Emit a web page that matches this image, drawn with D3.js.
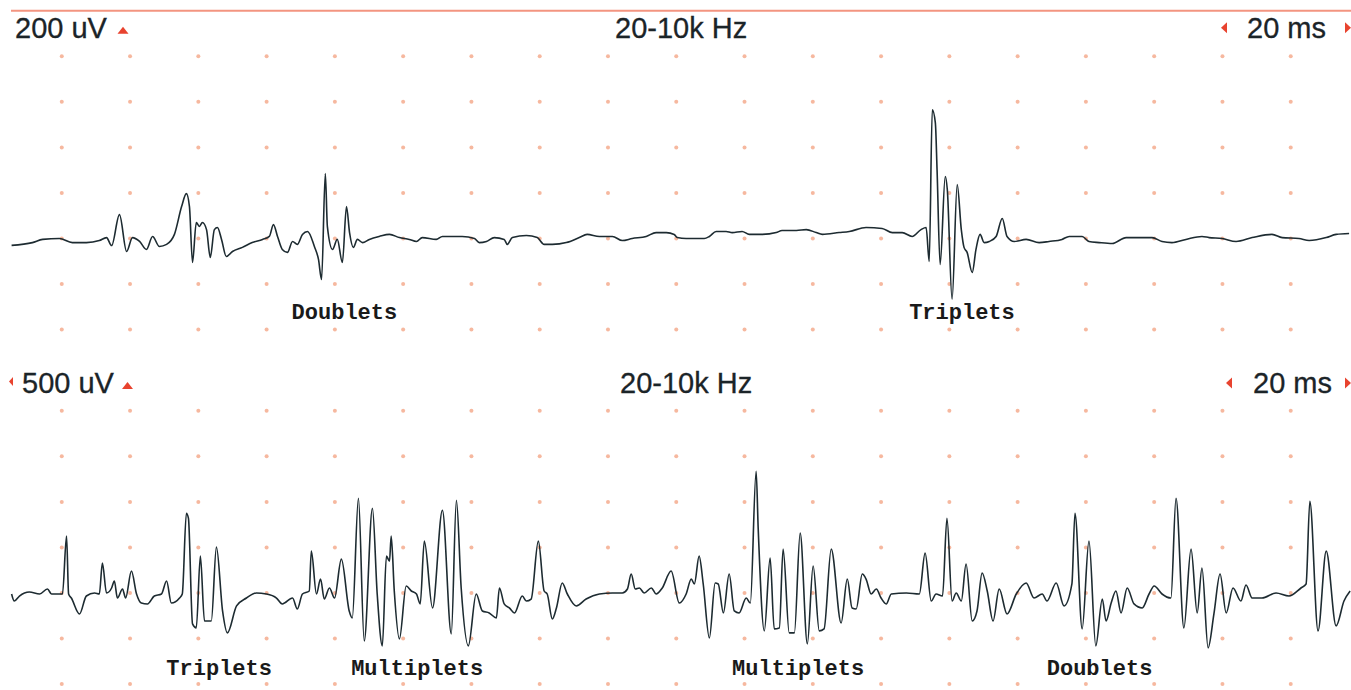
<!DOCTYPE html>
<html><head><meta charset="utf-8">
<script src="https://cdn.jsdelivr.net/npm/d3@7"></script>
<style>body{margin:0;background:#fff}svg{display:block}</style>
</head><body>
<svg id="c" width="1351" height="690"></svg>
<script>
// ---- data (time in ms, amplitude in µV) ----
const topTime = [5.3,11.4,14.4,19.3,23.1,27.2,31.0,33.1,34.6,36.9,39.0,40.7,42.8,44.8,46.6,48.6,50.7,53.0,55.1,56.5,57.4,58.3,59.4,60.3,61.2,62.4,63.5,64.7,65.6,66.8,68.2,70.0,72.9,75.8,78.8,80.8,82.0,83.2,84.6,86.1,87.6,89.0,90.5,92.0,94.0,95.2,96.1,97.2,97.8,99.3,100.7,102.2,103.4,104.3,105.4,106.6,108.1,110.1,
113.0,116.0,118.9,121.8,123.9,125.6,129.7,131.5,137.3,140.9,142.3,144.4,146.7,149.6,150.5,152.0,156.1,159.3,161.3,163.7,167.8,171.6,173.9,177.5,181.3,184.2,187.1,191.2,194.1,197.1,199.4,200.3,202.9,208.2,209.7,211.7,214.6,216.4,219.3,221.4,225.2,229.3,231.0,235.2,238.1,241.0,242.8,247.7,
250.7,255.6,260.3,263.3,266.2,269.1,271.7,273.2,274.1,275.0,275.9,276.4,277.3,278.8,279.4,280.8,282.3,283.5,284.3,285.2,286.7,287.8,289.0,290.2,291.7,293.7,295.5,296.9,299.0,302.5,306.3,309.2,313.0,315.1,318.9,320.9,323.9,327.7,331.8,339.4,342.3,345.2,349.3,354.0,356.1,359.9,364.0,368.7,374.5,377.5,382.4,385.4,390.4,393.3,397.1];
const topAmp = [-30,-18,-4,0,-18,-18,-9,4,-31,105,-57,4,-13,-48,9,-35,-26,18,140,197,140,-105,70,53,70,39,-83,39,48,-4,-79,-57,-39,-18,-4,9,61,9,-48,-61,-13,-26,18,31,-35,-92,-180,285,53,-48,-4,-105,140,26,-39,-4,-18,-4,
9,18,4,-4,-13,4,-4,9,9,0,-18,-13,4,-4,-26,4,13,4,-26,-26,-18,4,18,9,9,-9,0,9,26,26,18,4,0,0,9,31,31,26,31,18,18,26,35,35,39,26,18,26,
31,48,44,26,26,9,39,48,-101,565,508,302,-114,272,215,-267,237,39,-39,-61,-149,-48,18,-18,-13,9,88,9,-13,-4,-18,-13,-4,9,9,-13,-18,-22,4,4,-13,-18,-4,9,4,0,-13,4,18,4,0,-9,4,18,22];

const botTime = [5.3,6.1,7.6,10.5,13.5,15.8,17.0,20.2,21.4,22.0,22.8,25.2,27.2,29.6,31.0,31.9,33.1,34.6,35.4,36.3,37.8,38.7,40.4,41.9,43.3,45.1,47.1,49.2,50.7,52.1,54.5,55.3,56.5,57.1,58.3,59.4,60.6,61.8,63.8,65.3,67.1,68.5,71.2,74.1,77.0,79.9,82.9,84.6,87.6,89.0,90.5,92.5,93.1,94.6,95.8,96.9,98.4,99.9,101.9,104.2,105.1,106.9,108.6,111.0,112.4,113.9,115.1,116.0,116.5,117.4,118.9,120.9,122.4,123.9,125.0,126.2,128.6,131.5,134.1,135.6,137.0,139.1,141.4,143.2,145.2,147.3,
148.2,149.6,151.1,152.6,154.9,156.1,157.5,159.6,161.3,162.2,163.7,164.9,166.6,168.1,170.7,173.6,177.5,181.3,184.2,185.7,186.8,188.0,189.2,190.6,192.7,194.1,195.9,198.5,200.9,202.9,204.4,205.3,206.7,207.9,209.7,211.4,212.3,213.8,215.5,217.0,218.4,220.5,221.7,223.4,224.0,225.8,227.5,228.7,230.2,231.3,233.1,234.6,236.3,238.4,240.1,241.9,243.3,245.4,248.3,250.1,251.5,252.7,254.5,255.6,257.1,258.6,260.0,261.5,263.0,267.4,271.2,272.9,274.7,
276.1,278.0,279.3,280.8,282.0,283.5,284.9,286.7,288.1,289.6,291.1,292.8,294.6,296.9,299.6,302.5,304.8,307.2,308.6,311.3,313.6,315.9,316.8,318.9,320.9,322.9,324.8,325.9,327.4,328.8,330.3,332.1,334.1,336.5,338.5,340.0,342.3,344.9,346.4,348.7,350.8,352.6,354.0,355.8,357.5,359.3,361.1,363.1,365.4,366.9,368.7,371.6,375.7,379.5,383.0,384.5,385.6,388.0,390.4,393.3,395.6,397.4];
const botAmp = [-11,-88,-33,11,-11,44,-11,-11,624,-11,-55,-230,-33,0,-11,329,0,55,131,-55,44,-55,241,-11,-110,-120,-33,-11,131,-110,-55,-11,876,821,-339,-383,405,-307,-307,504,-197,-438,-142,-55,0,-11,-55,-120,-55,-175,-11,22,460,-11,153,-66,55,-55,372,-197,-274,1040,-526,931,-11,-580,405,350,624,22,-504,77,22,-11,-120,569,-164,909,-449,1018,55,-580,-11,-197,-219,-274,
55,-120,-164,-219,-33,-88,-66,569,22,-11,-285,-164,110,-11,-142,-66,-11,0,0,44,208,44,55,0,55,-11,55,241,-110,-11,153,99,405,99,-493,110,99,-219,208,-197,-219,-55,-110,1336,712,-416,383,-394,-383,482,-438,-438,657,-558,296,-416,-394,482,-329,153,-164,-175,208,153,-11,44,-55,-120,-11,0,-11,438,-88,
-11,-33,821,-88,0,-88,318,-307,-197,219,22,-307,44,-230,-11,110,-55,-11,-88,110,-142,99,876,-394,569,-580,-66,-307,-110,22,-219,55,-120,-164,-11,77,-11,-55,1040,-383,482,-219,274,-602,-230,208,-219,55,-88,88,-55,-55,0,-33,55,99,1007,-416,460,-361,-88,22];

const gridTimes = [20,40,60,80,100,120,140,160,180,200,220,240,260,280,300,320,340,360,380];
const topGridAmps = [800,600,400,200,0,-200,-400];
const botGridAmps = [2000,1500,1000,500,0,-500,-1000];

const topHeader = ["200 uV","20-10k Hz","20 ms"];
const botHeader = ["500 uV","20-10k Hz","20 ms"];

const topLabels = ["Doublets","Triplets"];
const topLabelTimes = [102.8,283.7];
const botLabels = ["Triplets","Multiplets","Multiplets","Doublets"];
const botLabelTimes = [66.1,124.1,235.7,324.0];

// ---- drawing ----
const svg = d3.select("#c");
const W = 1351;
const x = d3.scaleLinear().domain([0,400]).range([-6.5,1359]);
const yTop = d3.scaleLinear().domain([0,200]).range([238.5,192.95]);
const yBot = d3.scaleLinear().domain([0,500]).range([593,547.45]);

svg.append("rect").attr("width",W).attr("height",690).attr("fill","#fff");

// top border line
svg.append("line").attr("x1",11).attr("x2",W).attr("y1",10.8).attr("y2",10.8)
  .attr("stroke","#f39580").attr("stroke-width",2);

function drawPanel(yScale, gridAmps, times, amps, header, baseY, labels, labelTimes, labelY, hdrX) {
  const g = svg.append("g");
  // grid dots
  gridAmps.forEach(a => {
    g.selectAll(null).data(gridTimes).join("circle")
      .attr("cx", t => x(t)).attr("cy", yScale(a)).attr("r",2)
      .attr("fill","#f4ab8e").attr("opacity",0.85);
  });
  // trace
  const pts = times.map((t,i)=>[t, amps[i]]);
  const line = d3.line().curve(d3.curveMonotoneX).x(d=>x(d[0])).y(d=>yScale(d[1]));
  g.append("path").datum(pts).attr("d",line).attr("fill","none")
    .attr("stroke","#1d2b31").attr("stroke-width",1.6).attr("stroke-linejoin","round");
  // header texts
  const font = "'Liberation Sans', Arial, sans-serif";
  header.forEach((h,i) => {
    g.append("text").attr("x",hdrX[i]).attr("y",baseY).text(h)
      .attr("font-family",font).attr("font-size",29).attr("fill","#1b2428")
      .attr("stroke","#1b2428").attr("stroke-width",0.3);
  });
  // red markers
  const red = "#e8432f";
  g.append("path").attr("d",`M${hdrX[3]},${baseY-4} l5.5,-7 l5.5,7 z`).attr("fill",red);
  g.append("path").attr("d",`M${hdrX[4]},${baseY-10} l6,-5.5 l0,11 z`).attr("fill",red);
  g.append("path").attr("d",`M${W-6},${baseY-15.5} l6,5.5 l-6,5.5 z`).attr("fill",red);
  // annotations
  g.selectAll(null).data(labels.map((l,i)=>[l,labelTimes[i]])).join("text")
    .attr("x", d=>x(d[1])).attr("y", labelY).attr("text-anchor","middle")
    .attr("font-family","'Liberation Mono', 'Courier New', monospace")
    .attr("font-size",22).attr("font-weight","bold").attr("fill","#1a1a1a")
    .text(d=>d[0]);
}

drawPanel(yTop, topGridAmps, topTime, topAmp, topHeader, 37.7, topLabels, topLabelTimes, 319,
  [15, 615, 1247, 117.5, 1221]);
drawPanel(yBot, botGridAmps, botTime, botAmp, botHeader, 393, botLabels, botLabelTimes, 675,
  [22, 620, 1253, 122, 1226]);
// small red mark at left edge of lower header
svg.append("path").attr("d","M13,377 l-4,4.5 l4,4.5 z").attr("fill","#e8432f");
</script>
</body></html>
